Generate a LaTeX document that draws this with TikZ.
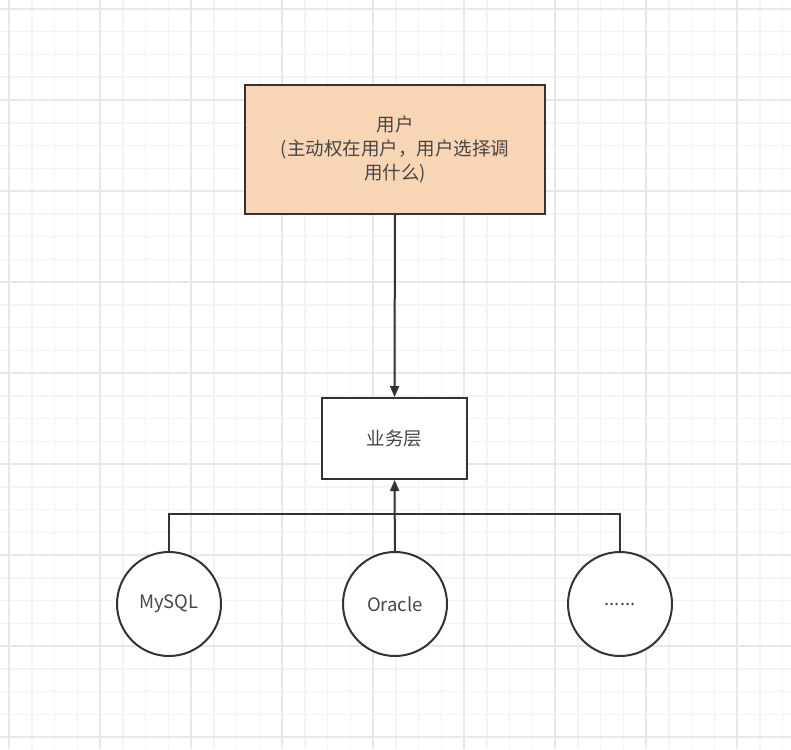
\documentclass[tikz,border=0pt]{standalone}
\usepackage{fontspec}
\setmainfont{Noto Sans CJK SC}
\usepackage{xcolor}
\usetikzlibrary{arrows.meta,positioning,calc}
\definecolor{gridMinor}{HTML}{F4F4F4}
\definecolor{gridMajor}{HTML}{E8E8E8}
\definecolor{lineDark}{HTML}{333333}
\definecolor{userFill}{HTML}{F8D5B5}

\begin{document}
\begin{tikzpicture}[x=1pt,y=-1pt,>={Triangle[length=11pt,width=9pt]},
  every node/.style={font=\fontsize{18.5}{24}\selectfont,text=lineDark!90},
  box/.style={draw=lineDark,line width=2pt,rectangle,inner sep=0pt},
  db/.style={draw=lineDark,line width=2pt,circle,minimum size=104pt,inner sep=0pt},
  link/.style={draw=lineDark,line width=2pt}]
\useasboundingbox (0,0) rectangle (791,749);
\fill[white] (0,0) rectangle (791,749);
% background grid
\foreach \i in {0,...,34}{\draw[gridMinor,line width=1.5pt] (9+22.75*\i,0) -- (9+22.75*\i,749);}
\foreach \i in {0,...,32}{\draw[gridMinor,line width=1.5pt] (0,9+22.75*\i) -- (791,9+22.75*\i);}
\foreach \i in {0,...,8}{\draw[gridMajor,line width=1.5pt] (9+91*\i,0) -- (9+91*\i,749);}
\foreach \i in {0,...,8}{\draw[gridMajor,line width=1.5pt] (0,9+91*\i) -- (791,9+91*\i);}

\node[box,fill=userFill,minimum width=300pt,minimum height=129pt,align=center] (user) at (395,149.5)
  {用户\\(主动权在用户，用户选择调\\用什么)};
\node[box,fill=white,minimum width=145pt,minimum height=81pt] (biz) at (394.5,438.5) {业务层};
\node[db,fill=white] (mysql) at (169,604) {MySQL};
\node[db,fill=white] (oracle) at (395,604) {Oracle};
\node[db,fill=white] (etc) at (620,604) {......};
\coordinate (bus) at (395,514);

\draw[link,->] (user) -- (biz);
\draw[link] (mysql.north) |- (bus) -| (etc.north);
\draw[link,->] (oracle) -- (biz);
\end{tikzpicture}
\end{document}
